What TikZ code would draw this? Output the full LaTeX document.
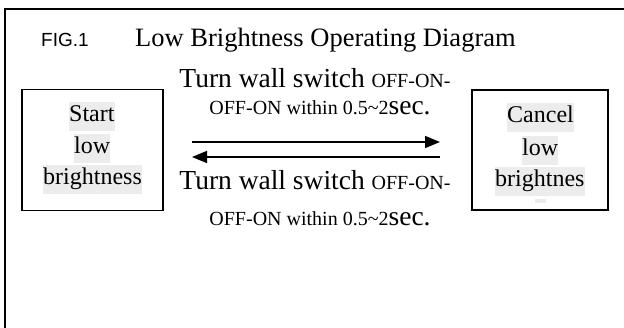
\documentclass[tikz,border=0pt]{standalone}
\usepackage{fontspec}
\setmainfont{Liberation Serif}
\newfontfamily\arialfont{Liberation Sans}
\usetikzlibrary{arrows.meta}
\definecolor{hlgray}{HTML}{ECECEC}
\newcommand{\bigtx}{\fontsize{27.5}{27.5}\selectfont}
\newcommand{\smalltx}{\fontsize{20}{20}\selectfont}
\begin{document}
\begin{tikzpicture}[x=1pt,y=1pt,
  frame/.style={line width=2pt},
  boxst/.style={draw, line width=1.5pt, inner sep=0pt},
  hl/.style={fill=hlgray, inner xsep=0pt, inner ysep=3pt, text height=17pt, text depth=6pt, anchor=base west, font=\fontsize{24}{24}\selectfont},
  lbl/.style={inner sep=0pt, anchor=base},
  arr/.style={line width=1.5pt, -{Triangle[length=15pt,width=12pt]}}
]
\useasboundingbox (0,0) rectangle (624,-328);
\draw[frame] (4.5,-332) -- (4.5,-9) -- (630,-9);

% title
\node[lbl, anchor=base west, font=\arialfont\fontsize{19}{19}\selectfont] (fig) at (41,-47) {FIG.1};
\node[lbl, anchor=base west, font=\fontsize{26.5}{26.5}\selectfont] (title) at (135,-47) {Low Brightness Operating Diagram};

% boxes
\node[boxst, minimum width=141pt, minimum height=121pt] (lbox) at (92.5,-150) {};
\node[boxst, minimum width=136pt, minimum height=120pt] (rbox) at (540,-150) {};

% box texts
\node[hl] (s1) at (69,-122) {Start\hspace{12pt}};
\node[hl] (s2) at (74,-154) {low\hspace{6pt}};
\node[hl] (s3) at (43,-185) {brightness};
\node[hl] (c1) at (507,-123) {Cancel\hspace{6pt}};
\node[hl] (c2) at (522,-156) {low\hspace{6pt}};
\node[hl] (c3) at (495,-187) {brightnes};
\fill[hlgray] (535,-199) rectangle (546,-203);

% labels
\node[lbl] (t1) at (315,-88) {\bigtx Turn wall switch \smalltx OFF-ON-};
\node[lbl] (t2) at (320,-115) {\smalltx OFF-ON within 0.5\textasciitilde 2\bigtx sec.};
\node[lbl] (t3) at (315,-190) {\bigtx Turn wall switch \smalltx OFF-ON-};
\node[lbl] (t4) at (320,-226) {\smalltx OFF-ON within 0.5\textasciitilde 2\bigtx sec.};

% arrows
\coordinate (a1s) at (192,-142);
\coordinate (a1e) at (440,-142);
\coordinate (a2s) at (440,-157);
\coordinate (a2e) at (192,-157);
\draw[arr] (a1s) -- (a1e);
\draw[arr] (a2s) -- (a2e);
\end{tikzpicture}
\end{document}
